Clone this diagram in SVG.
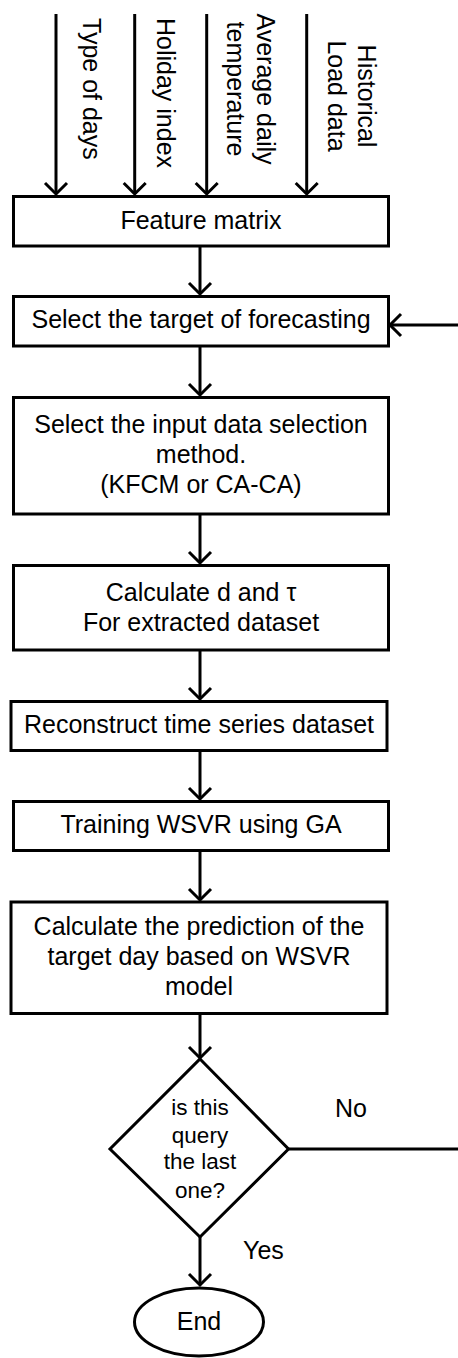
<svg xmlns="http://www.w3.org/2000/svg" width="458" height="1358" viewBox="0 0 458 1358">
<style>
  .box { fill: #ffffff; stroke: #000000; stroke-width: 3; }
  .lbl { font-family: "Liberation Sans", Arial, sans-serif; font-size: 25px; fill: #000000; }
  .c { text-anchor: middle; }
  .small { font-size: 22.5px; }
  .conn { fill: none; stroke: #000000; stroke-width: 3; marker-end: url(#arr); }
</style>
<defs>
  <marker id="arr" markerUnits="userSpaceOnUse" viewBox="-14 -13 16 26" refX="0" refY="0" markerWidth="16" markerHeight="26" orient="auto" overflow="visible">
    <path d="M-11,-11 L0,0 L-11,11" fill="none" stroke="#000000" stroke-width="3"/>
  </marker>
</defs>
<rect x="0" y="0" width="458" height="1358" fill="#ffffff"/>

<g id="connectors">
  <path class="conn" d="M56,14 V194"/>
  <path class="conn" d="M134.7,14 V194"/>
  <path class="conn" d="M206.7,14 V194"/>
  <path class="conn" d="M306.7,14 V194"/>
  <path class="conn" d="M200,247 V294"/>
  <path class="conn" d="M200,347 V395"/>
  <path class="conn" d="M200,515 V563"/>
  <path class="conn" d="M200,651 V699"/>
  <path class="conn" d="M200,751 V799"/>
  <path class="conn" d="M200,851 V900"/>
  <path class="conn" d="M200,1014 V1058"/>
  <path class="conn" d="M200,1237 V1285"/>
  <path class="conn" d="M288.5,1149 H462 V325 H390"/>
</g>

<g id="input-labels">
  <text class="lbl" transform="translate(83,18) rotate(90)">Type of days</text>
  <text class="lbl" transform="translate(157,18) rotate(90)">Holiday index</text>
  <text class="lbl c" transform="translate(257,89) rotate(90)"><tspan x="0" y="0">Average daily</tspan><tspan x="0" y="30">temperature</tspan></text>
  <text class="lbl c" transform="translate(358,96) rotate(90)"><tspan x="0" y="0">Historical</tspan><tspan x="0" y="30">Load data</tspan></text>
</g>

<g id="feature-matrix">
  <rect class="box" x="13.5" y="196.5" width="375" height="49.5"/>
  <text class="lbl c" x="201" y="229">Feature matrix</text>
</g>

<g id="select-target">
  <rect class="box" x="13.5" y="296.5" width="375" height="49.5"/>
  <text class="lbl c" x="201" y="328">Select the target of forecasting</text>
</g>

<g id="select-method">
  <rect class="box" x="13.5" y="397.5" width="375" height="116.5"/>
  <text class="lbl c" x="201" y="432.7">Select the input data selection</text>
  <text class="lbl c" x="201" y="463">method.</text>
  <text class="lbl c" x="201" y="493">(KFCM or CA-CA)</text>
</g>

<g id="calc-d-tau">
  <rect class="box" x="13.5" y="565.5" width="375" height="84.5"/>
  <text class="lbl c" x="201" y="600.7">Calculate d and τ</text>
  <text class="lbl c" x="201" y="630.7">For extracted dataset</text>
</g>

<g id="reconstruct">
  <rect class="box" x="11" y="701.5" width="376" height="49"/>
  <text class="lbl c" x="199" y="733">Reconstruct time series dataset</text>
</g>

<g id="training">
  <rect class="box" x="13.5" y="801.5" width="375" height="49"/>
  <text class="lbl c" x="201" y="833.3">Training WSVR using GA</text>
</g>

<g id="prediction">
  <rect class="box" x="11" y="902" width="376" height="111.5"/>
  <text class="lbl c" x="199" y="935">Calculate the prediction of the</text>
  <text class="lbl c" x="199" y="965">target day based on WSVR</text>
  <text class="lbl c" x="199" y="995">model</text>
</g>

<g id="decision">
  <polygon class="box" points="200,1059 288.5,1149 200,1237 110,1149"/>
  <text class="lbl c small" x="200" y="1115">is this</text>
  <text class="lbl c small" x="200" y="1142.5">query</text>
  <text class="lbl c small" x="200" y="1169">the last</text>
  <text class="lbl c small" x="200" y="1197.5">one?</text>
</g>

<g id="edge-labels">
  <text class="lbl" x="335" y="1116.7">No</text>
  <text class="lbl" x="243" y="1259">Yes</text>
</g>

<g id="end">
  <ellipse class="box" cx="199" cy="1322" rx="64.5" ry="34"/>
  <text class="lbl c" x="199" y="1330">End</text>
</g>
</svg>
